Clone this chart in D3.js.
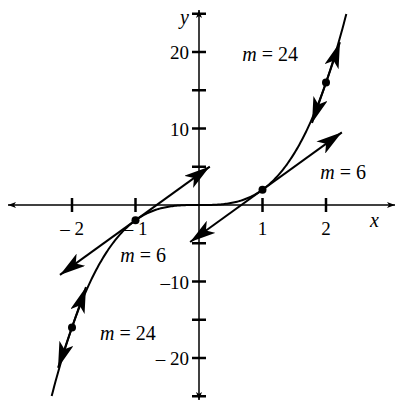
<!DOCTYPE html><html><head><script src="https://cdn.jsdelivr.net/npm/d3@7"></script>
<style>body{margin:0;background:#fff}</style></head><body><svg id="c" width="402" height="410"></svg>
<script>
const xTicks=[-2,-1,1,2];
const yTickLabels=[-20,-10,10,20];
const yTicksMinor=[-25,-15,-5,5,15,25];
const points=[[1,2],[-1,-2],[2,16],[-2,-16]];
const tangents=[{x0:1,m:6,from:-0.14,to:2.25},{x0:-1,m:6,from:-2.19,to:0.17},{x0:2,m:24,from:1.78,to:2.22},{x0:-2,m:24,from:-2.22,to:-1.78}];
const labels=[{x:1.12,y:18.8,t:"24"},{x:2.27,y:3.4,t:"6"},{x:-0.88,y:-7.5,t:"6"},{x:-1.12,y:-17.6,t:"24"}];
const f=x=>2*x*x*x;
const svg=d3.select("#c");
const X=d3.scaleLinear().domain([0,1]).range([199,262.5]);
const Y=d3.scaleLinear().domain([0,10]).range([205,128.5]);
const defs=svg.append("defs");
function mk(id,l,w){defs.append("marker").attr("id",id).attr("viewBox",`0 -${w} ${l} ${2*w}`).attr("refX",l).attr("refY",0).attr("markerWidth",l).attr("markerHeight",2*w).attr("markerUnits","userSpaceOnUse").attr("orient","auto-start-reverse").append("path").attr("d",`M0,-${w}L${l},0L0,${w}L${l*0.25},0Z`).attr("fill","#000");}
mk("big",26,7.5);mk("ax",8,3);
svg.append("line").attr("x1",8).attr("x2",395).attr("y1",Y(0)).attr("y2",Y(0)).attr("stroke","#000").attr("stroke-width",1.5).attr("marker-start","url(#ax)").attr("marker-end","url(#ax)");
svg.append("line").attr("x1",X(0)).attr("x2",X(0)).attr("y1",400).attr("y2",10).attr("stroke","#000").attr("stroke-width",1.5).attr("marker-start","url(#ax)").attr("marker-end","url(#ax)");
xTicks.forEach(t=>{svg.append("line").attr("x1",X(t)).attr("x2",X(t)).attr("y1",Y(0)-7).attr("y2",Y(0)+7).attr("stroke","#000").attr("stroke-width",2.5);
 svg.append("text").attr("x",X(t)).attr("y",Y(0)+30).attr("text-anchor","middle").attr("font-family","Liberation Serif").attr("font-size",19).text(t<0?"\u2013 "+(-t):t);});
yTickLabels.concat(yTicksMinor).forEach(t=>{svg.append("line").attr("x1",X(0)-7).attr("x2",X(0)+7).attr("y1",Y(t)).attr("y2",Y(t)).attr("stroke","#000").attr("stroke-width",2.5);});
yTickLabels.forEach(t=>svg.append("text").attr("x",X(0)-10).attr("y",Y(t)+7).attr("text-anchor","end").attr("font-family","Liberation Serif").attr("font-size",19).text(t==-20?"\u2013 20":t==-10?"\u201310":t));
svg.append("text").attr("x",370).attr("y",227).attr("font-family","Liberation Serif").attr("font-style","italic").attr("font-size",20).text("x");
svg.append("text").attr("x",180).attr("y",24).attr("font-family","Liberation Serif").attr("font-style","italic").attr("font-size",20).text("y");
const xs=d3.range(-2.32,2.3201,0.02);
svg.append("path").attr("d",d3.line().x(d=>X(d)).y(d=>Y(f(d)))(xs)).attr("fill","none").attr("stroke","#000").attr("stroke-width",2);
tangents.forEach(t=>{const y0=f(t.x0);const g=x=>y0+t.m*(x-t.x0);
 svg.append("line").attr("x1",X(t.from)).attr("y1",Y(g(t.from))).attr("x2",X(t.to)).attr("y2",Y(g(t.to))).attr("stroke","#000").attr("stroke-width",2).attr("marker-start","url(#big)").attr("marker-end","url(#big)");});
points.forEach(p=>svg.append("circle").attr("cx",X(p[0])).attr("cy",Y(p[1])).attr("r",4).attr("fill","#000"));
labels.forEach(l=>{const t=svg.append("text").attr("x",X(l.x)).attr("y",Y(l.y)).attr("text-anchor","middle").attr("font-family","Liberation Serif").attr("font-size",20);
 t.append("tspan").attr("font-style","italic").text("m");t.append("tspan").text(" = "+l.t);});
</script></body></html>
